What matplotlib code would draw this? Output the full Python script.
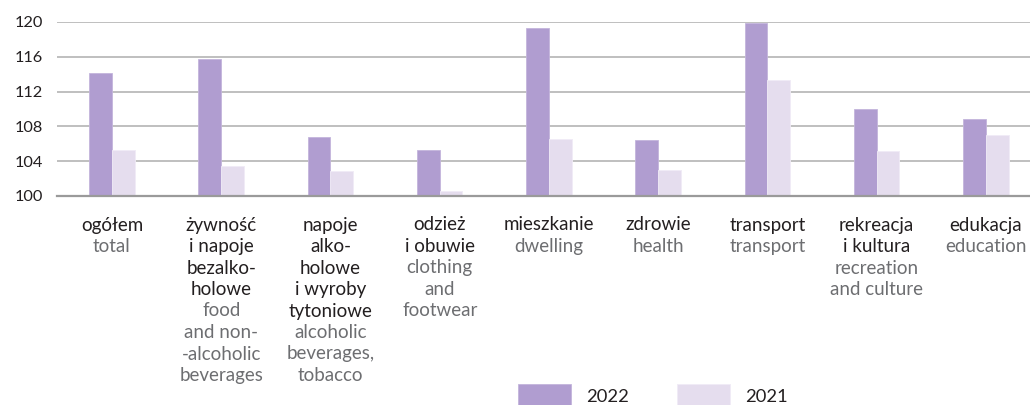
import matplotlib
matplotlib.use("Agg")
import matplotlib.pyplot as plt
import matplotlib.transforms as mtransforms
import numpy as np

# Price indices of consumer goods and services (previous year = 100)
labels_pl = [
    ["ogółem"],
    ["żywność", "i napoje", "bezalko-", "holowe"],
    ["napoje", "alko-", "holowe", "i wyroby", "tytoniowe"],
    ["odzież", "i obuwie"],
    ["mieszkanie"],
    ["zdrowie"],
    ["transport"],
    ["rekreacja", "i kultura"],
    ["edukacja"],
]
labels_en = [
    ["total"],
    ["food", "and non-", "-alcoholic", "beverages"],
    ["alcoholic", "beverages,", "tobacco"],
    ["clothing", "and", "footwear"],
    ["dwelling"],
    ["health"],
    ["transport"],
    ["recreation", "and culture"],
    ["education"],
]
values_2022 = [114.1, 115.7, 106.8, 105.3, 119.3, 106.4, 119.9, 110.0, 108.8]
values_2021 = [105.3, 103.5, 102.9, 100.6, 106.5, 103.0, 113.3, 105.2, 107.0]
series_names = ["2022", "2021"]
yticks = [100, 104, 108, 112, 116, 120]

COLOR_2022 = "#b09dd0"
COLOR_2021 = "#e5ddee"
TEXT_DARK = "#231f20"
TEXT_GREY = "#6d6e71"

plt.rcParams["font.family"] = ["Lato", "DejaVu Sans"]

W, H, DPI = 1030, 405, 100
fig = plt.figure(figsize=(W / DPI, H / DPI), dpi=DPI)
left_px, right_px, bottom_px, top_px = 57.3, 1030, 196, 22
ax = fig.add_axes([left_px / W, 1 - bottom_px / H,
                   (right_px - left_px) / W, (bottom_px - top_px) / H])

x = np.arange(len(values_2022))
bw = 0.208
ax.bar(x - bw / 2, np.array(values_2022) - 100, bw, bottom=100,
       color=COLOR_2022, edgecolor="#c3b5dc", linewidth=0.6,
       label=series_names[0], zorder=3)
ax.bar(x + bw / 2, np.array(values_2021) - 100, bw, bottom=100,
       color=COLOR_2021, edgecolor="#f0ebf6", linewidth=0.6,
       label=series_names[1], zorder=3)

ax.set_ylim(100, 120)
ax.set_xlim(-0.5, (right_px - 112) / 109.25)
ax.set_yticks(yticks)
ax.set_yticklabels([str(t) for t in yticks], fontsize=11.8, color=TEXT_DARK)
ax.tick_params(axis="y", length=0, pad=10)
ax.set_xticks([])
ax.grid(axis="y", color="#b4b4b4", linewidth=1.2, zorder=0)
for s in ["top", "right", "left"]:
    ax.spines[s].set_visible(False)
ax.spines["bottom"].set_color("#9a9a9a")
ax.spines["bottom"].set_linewidth(1.6)
ax.spines["bottom"].set_zorder(4)

# Two-language category labels below the axis, one line at a time
base = mtransforms.blended_transform_factory(ax.transData, ax.transAxes)
first_offset_px = 29
line_px = 21.5
for i in range(len(labels_pl)):
    lines = [(t, TEXT_DARK) for t in labels_pl[i]] + \
            [(t, TEXT_GREY) for t in labels_en[i]]
    for k, (txt, col) in enumerate(lines):
        off = mtransforms.ScaledTranslation(
            0, -(first_offset_px + k * line_px) / DPI, fig.dpi_scale_trans)
        ax.text(i, 0, txt, transform=base + off, ha="center", va="center",
                fontsize=13.5, color=col, clip_on=False)

leg = fig.legend(loc="upper left", bbox_to_anchor=(518 / W, 1 - 384 / H),
                 ncol=2, frameon=False, fontsize=13.2,
                 handlelength=2.9, handleheight=1.7, handletextpad=0.82,
                 columnspacing=2.6, borderaxespad=0, borderpad=0)
for t in leg.get_texts():
    t.set_color(TEXT_DARK)

fig.savefig("out.png", dpi=DPI)
